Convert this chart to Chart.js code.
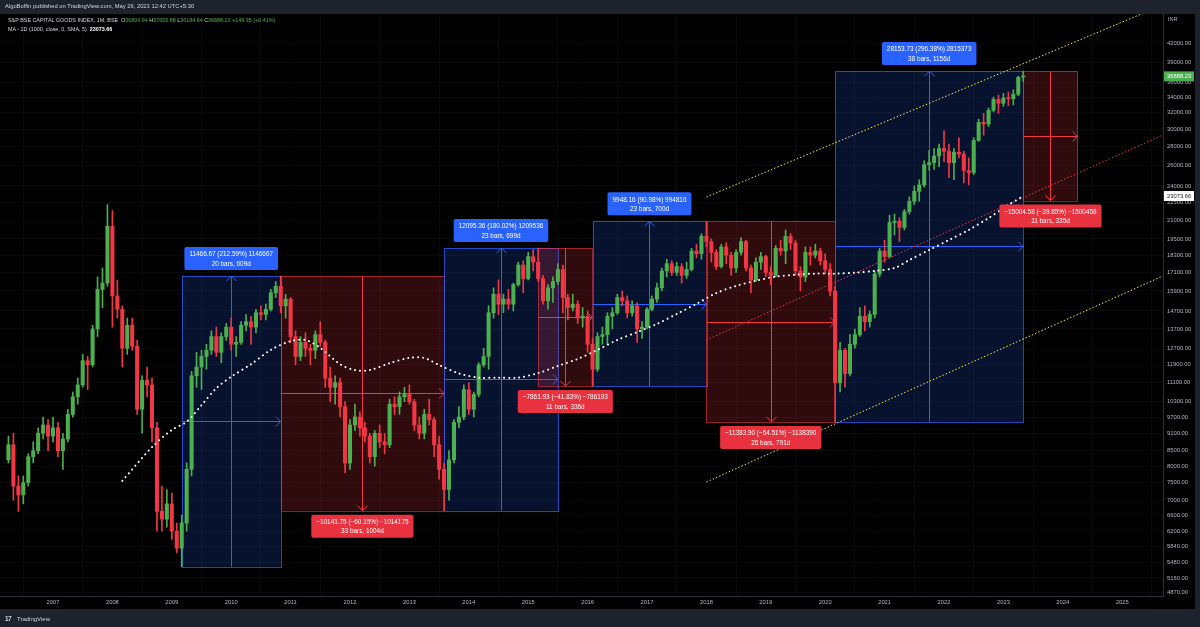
<!DOCTYPE html>
<html><head><meta charset="utf-8">
<script src="https://cdn.jsdelivr.net/npm/chart.js@4.4.0/dist/chart.umd.min.js"></script>
<style>
html,body{margin:0;padding:0;background:#1e222d;width:1200px;height:627px;overflow:hidden;}
#wrap{position:relative;width:1200px;height:627px;}
canvas{position:absolute;left:0;top:0;}
.t{position:absolute;font-family:"Liberation Sans",Arial,sans-serif;white-space:nowrap;line-height:1;}
#pub{left:5px;top:3.8px;font-size:5.8px;color:#d1d4dc;}
#l1{left:8px;top:17.5px;font-size:5.4px;color:#d1d4dc;}
#l2{left:8px;top:26.5px;font-size:5.4px;color:#d1d4dc;}
.g{color:#4caf50}
.w{color:#ffffff;font-weight:bold}
#inr{left:1168px;top:16.5px;font-size:5.4px;color:#b2b5be;}
#foot{left:17px;top:616px;font-size:6px;color:#d1d4dc;}
#logo{left:5px;top:615.5px;font-size:6.5px;color:#d1d4dc;font-weight:bold;letter-spacing:-0.5px;}
</style></head>
<body><div id="wrap">
<canvas id="c" width="1200" height="627"></canvas>
<div class="t" id="pub">AlgoBoffin published on TradingView.com, May 26, 2023 12:42 UTC+5:30</div>
<div class="t" id="l1">S&amp;P BSE CAPITAL GOODS INDEX, 1M, BSE&nbsp;&nbsp;O<span class="g">36804.94</span> H<span class="g">37652.88</span> L<span class="g">36184.64</span> C<span class="g">36888.23</span> <span class="g">+149.35 (+0.41%)</span></div>
<div class="t" id="l2">MA - 1D (1000, close, 0, SMA, 5)&nbsp;&nbsp;<span class="w">23073.66</span></div>
<div class="t" id="inr">INR</div>
<div class="t" id="logo">17</div>
<div class="t" id="foot">TradingView</div>
</div>
<script>
// Monthly candles, first bar = April 2006 (month index -9 relative to Jan 2007)
const firstIndex = -9;
const open = [8200,8700,7400,7150,7500,8300,8500,9100,9400,
9000,9300,8500,8900,9800,10500,11000,12100,11900,13700,16000,16400,
20500,15600,14800,12700,13900,12800,10000,11200,11000,9300,6700,6500,
6900,6200,5800,6400,7900,11400,11800,12300,12600,13300,12500,13300,
13800,12900,13000,13900,14100,13800,14600,14500,14800,15800,16200,15000,
15400,13300,12300,13000,12700,12600,13400,13000,11300,10900,11100,10100,
8100,9400,9700,9300,9000,8300,9100,8800,8700,10200,10100,10500,
10600,10300,9400,9100,9800,9600,8700,7900,7300,8200,9500,9700,
10800,10000,10600,11900,12300,14600,15700,15100,15400,15100,16300,17600,
16700,18200,17800,16700,15300,16100,16500,17300,15500,14900,15100,14300,
14400,12900,11700,13300,13400,14400,14600,15500,15300,14600,15000,13700,
13800,14800,15400,16100,17200,17700,17100,17500,16900,17300,18600,18400,
19700,19300,18500,17500,18900,18300,17400,18500,19300,17400,16600,17800,
18200,17100,16900,18800,18600,19700,19200,17200,16800,18500,18300,18600,
17900,17300,15900,11100,12600,11500,12900,13400,14400,14100,14500,17000,
18600,18200,20800,20900,20400,21700,22600,23500,24100,26100,26300,27000,
27800,27500,26300,27400,27200,25500,25300,28700,30800,30600,32300,33700,
33200,33900,33800,34400,36804.94];
const high = [9000,9100,7700,7700,8400,8800,9300,9700,9600,
9700,9500,9100,10000,10700,11300,12400,12300,13900,16800,17400,22300,
21800,16600,15000,14300,14300,13100,11400,11800,11300,9500,7400,7300,
7200,6400,6600,8100,11600,12500,12600,12900,13600,13800,13500,14000,
14300,13300,14100,14500,14400,14800,15000,15100,16000,16500,16860,15700,
15500,13600,13300,13500,12900,13600,14100,13100,11800,11400,11300,10300,
9600,10200,9900,9500,9100,9200,9400,9100,10400,10500,10700,10900,
11000,10400,9700,10000,10400,9700,9000,8100,8500,9600,10100,11000,
11100,10700,12000,12700,15000,16100,16600,15700,16000,16400,17800,17900,
18500,18700,18814,16900,16300,16800,17700,17600,15700,15700,15300,14900,
14700,13200,13500,13800,14600,14900,15700,15900,15600,15300,15200,14100,
14900,15600,16400,17400,18000,17900,17800,17700,17800,18800,19100,19900,
20900,19500,18700,19100,19200,18500,18700,19600,19400,17600,18100,18500,
18300,17500,19000,19400,20200,19900,19400,17500,18900,18900,19100,18800,
18400,17700,16200,13000,12700,13400,13700,14900,15000,14700,17200,18800,
19400,21400,21500,21200,21900,23000,24000,24600,26500,27600,27800,28300,
29800,28300,27800,29000,27500,26800,29000,31200,31900,32600,34000,34300,
34500,34700,35000,36900,37652.88];
const low = [8100,7000,6700,6900,7400,8100,8400,8900,8500,
8800,8300,7900,8800,9700,10200,10900,10800,11800,13300,14900,16200,
13800,14300,11800,12400,12600,9800,9100,10500,8800,6200,6200,6300,
6000,5700,5394,6200,7700,10900,10800,11700,12400,12300,12000,13100,
12600,12300,12900,13600,12900,13500,14200,14200,14700,15500,14600,14300,
13000,11900,12100,12300,11900,12200,12800,10900,10300,10200,9700,7800,
7900,9200,9000,8800,8100,8000,8600,8400,8600,9800,9800,10300,
10200,9200,8900,8900,9400,8300,7600,6718,7000,8100,9300,9600,
9800,9700,10500,11800,11700,14300,14500,14600,14800,14700,16200,15800,
16600,17200,16500,15100,14800,15200,16300,14600,14200,14700,14000,13800,
12500,10952,11600,12900,12900,13700,14500,15000,14300,14400,13000,13200,
13700,14700,15200,15900,16800,16900,16900,16400,16700,17200,18100,18000,
18900,17800,17300,17400,17700,16900,17100,18300,17200,15800,16500,17300,
16800,16300,16800,18300,17700,18700,16900,15900,16500,17600,18100,17600,
17000,15600,9516,10700,10900,11400,12700,13300,13600,13800,14300,16800,
17800,18100,19800,19300,20200,21500,22300,22600,23900,25500,25600,25900,
26400,24800,24600,26800,24300,24100,25100,28600,29300,30300,32100,31900,
32800,32900,33000,34200,36184.64];
const close = [8700,7400,7150,7500,8300,8500,9100,9400,9000,
9300,8500,8900,9800,10500,11000,12100,11900,13700,16000,16400,20500,
15600,14800,12700,13900,12800,10000,11200,11000,9300,6700,6500,6900,
6200,5800,6400,7900,11400,11800,12300,12600,13300,12500,13300,13800,
12900,13000,13900,14100,13800,14600,14500,14800,15800,16200,15000,15400,
13300,12300,13000,12700,12600,13400,13000,11300,10900,11100,10100,8100,
9400,9700,9300,9000,8300,9100,8800,8700,10200,10100,10500,10600,
10300,9400,9100,9800,9600,8700,7900,7300,8200,9500,9700,10800,
10000,10600,11900,12300,14600,15700,15100,15400,15100,16300,17600,16700,
18200,17800,16700,15300,16100,16500,17300,15500,14900,15100,14300,14400,
12900,11700,13300,13400,14400,14600,15500,15300,14600,15000,13700,13800,
14800,15400,16100,17200,17700,17100,17500,16900,17300,18600,18400,19700,
19300,18500,17500,18900,18300,17400,18500,19300,17400,16600,17800,18200,
17100,16900,18800,18600,19700,19200,17200,16800,18500,18300,18600,17900,
17300,15900,11100,12600,11500,12900,13400,14400,14100,14500,17000,18600,
18200,20800,20900,20400,21700,22600,23500,24100,26100,26300,27000,27800,
27500,26300,27400,27200,25500,25300,28700,30800,30600,32300,33700,33200,
33900,33800,34400,36738.88,36888.23];

// MA (1000 D SMA) sampled points: month index / value
const maMonth = [14,20,24,27,30,33,36,40,44,48,51,54,58,61,64,68,72,75,78,82,86,90,94,98,102,106,110,114,118,122,126,130,134,138,142,146,150,154,158,162,166,170,173,177,181,185,189,193,196];
const maValue = [7550,8620,9220,9520,10160,10860,11360,11930,12620,13060,13120,12720,11930,11660,11660,11980,12230,12230,11890,11510,11320,11320,11320,11520,11850,12180,12620,13120,13530,13970,14530,15120,15770,16220,16550,16820,16950,17020,17020,17080,17200,17400,17950,18670,19420,20200,21170,22280,23073.66];

// Parallel channel (month index, price)
const chanMonth = [132, 224.2];
const chanUpper = [22990, 48810];
const chanMid = [13120, 29310];
const chanLower = [7518, 16860];

// Date & price range measurements
const boxStart = [26,46,79,98,109,132,158,196];
const boxEnd   = [46,79,102,109,132,158,196,207];
const boxFrom  = [5393.8,16860.5,6718.7,18814.1,10952.2,20900.4,9516.5,37670.2];
const boxTo    = [16860.5,6718.7,18814.1,10952.2,20900.4,9516.5,37670.2,22665.6];
const boxLine1 = ["11466.67 (212.59%) 1146667","\u221210141.75 (\u221260.15%) \u22121014175","12095.36 (180.02%) 1209536","\u22127861.93 (\u221241.83%) \u2212786193","9948.16 (90.98%) 994816","\u221211383.90 (\u221254.51%) \u22121138390","28153.73 (296.38%) 2815373","\u221215004.58 (\u221239.85%) \u22121500458"];
const boxLine2 = ["20 bars, 609d","33 bars, 1004d","23 bars, 699d","11 bars, 336d","23 bars, 700d","26 bars, 791d","38 bars, 1156d","11 bars, 335d"];

// Axis ticks
const yearTicks = [0,12,24,36,48,60,72,84,96,108,120,132,144,156,168,180,192,204,216];
const yearLabels = ["2007","2008","2009","2010","2011","2012","2013","2014","2015","2016","2017","2018","2019","2020","2021","2022","2023","2024","2025"];
const priceTicks = [42000,39000,36000,34000,32000,30000,28000,26000,24000,22500,21000,19500,18300,17100,15900,14700,13700,12700,11900,11100,10300,9700,9100,8500,8000,7500,7000,6600,6200,5840,5480,5160,4870];

const UP='#4caf50', DN='#f23645';
const FONT='"Liberation Sans", Arial, sans-serif';

const idx = close.map((_,i)=>firstIndex+i);
const isUp = close.map((c,i)=>c>=open[i]);
const candleCol = isUp.map(u=>u?UP:DN);

const framePlugin = {
  id:'frame',
  beforeDraw(c){
    const ctx=c.ctx; ctx.save();
    ctx.fillStyle='#1e222d'; ctx.fillRect(0,0,1200,627);
    ctx.fillStyle='#000000'; ctx.fillRect(0,14,1195,595);
    ctx.restore();
  }
};

function arrowHead(ctx, x, y, dir, s){
  ctx.beginPath();
  if(dir==='up'){ctx.moveTo(x-s,y+s);ctx.lineTo(x,y);ctx.lineTo(x+s,y+s);}
  else if(dir==='down'){ctx.moveTo(x-s,y-s);ctx.lineTo(x,y);ctx.lineTo(x+s,y-s);}
  else {ctx.moveTo(x-s,y-s);ctx.lineTo(x,y);ctx.lineTo(x-s,y+s);}
  ctx.stroke();
}

const measurePlugin = {
  id:'measure',
  beforeDatasetsDraw(c){
    const {ctx, chartArea:a} = c; const x=c.scales.x, y=c.scales.y;
    ctx.save();
    ctx.beginPath(); ctx.rect(a.left,a.top,a.right-a.left,a.bottom-a.top); ctx.clip();
    for(let i=0;i<boxStart.length;i++){
      const up = boxTo[i]>boxFrom[i];
      const x0=x.getPixelForValue(boxStart[i]), x1=x.getPixelForValue(boxEnd[i]);
      const yA=y.getPixelForValue(boxFrom[i]), yB=y.getPixelForValue(boxTo[i]);
      const top=Math.min(yA,yB), bot=Math.max(yA,yB);
      ctx.fillStyle = up?'rgba(41,98,255,0.18)':'rgba(242,54,69,0.2)';
      ctx.fillRect(x0,top,x1-x0,bot-top);
      ctx.strokeStyle = up?'rgba(41,98,255,0.75)':'rgba(242,54,69,0.6)';
      ctx.lineWidth=1;
      ctx.strokeRect(Math.round(x0)+0.5,Math.round(top)+0.5,Math.round(x1-x0),Math.round(bot-top));
      const col = up?'#2962ff':'#f23645';
      ctx.strokeStyle=col; ctx.lineWidth=1;
      const xm=Math.round((x0+x1)/2)+0.5, ym=Math.round((top+bot)/2)+0.5;
      ctx.beginPath(); ctx.moveTo(xm,yA); ctx.lineTo(xm,yB); ctx.stroke();
      arrowHead(ctx,xm,yB,up?'up':'down',5);
      ctx.beginPath(); ctx.moveTo(x0,ym); ctx.lineTo(x1,ym); ctx.stroke();
      arrowHead(ctx,x1,ym,'right',5);
    }
    ctx.restore();
  },
  afterDatasetsDraw(c){
    const {ctx} = c; const x=c.scales.x, y=c.scales.y;
    ctx.save();
    ctx.font='6.4px '+FONT; ctx.textAlign='center'; ctx.textBaseline='middle';
    for(let i=0;i<boxStart.length;i++){
      const up = boxTo[i]>boxFrom[i];
      const x0=x.getPixelForValue(boxStart[i]), x1=x.getPixelForValue(boxEnd[i]);
      const yA=y.getPixelForValue(boxFrom[i]), yB=y.getPixelForValue(boxTo[i]);
      const top=Math.min(yA,yB), bot=Math.max(yA,yB);
      const xm=(x0+x1)/2;
      const w=Math.max(ctx.measureText(boxLine1[i]).width,ctx.measureText(boxLine2[i]).width)+10;
      const h=23;
      const ly = up? top-6-h : bot+4;
      ctx.fillStyle = up?'#2962ff':'#e8323f';
      ctx.beginPath();
      if(ctx.roundRect) ctx.roundRect(xm-w/2,ly,w,h,2); else ctx.rect(xm-w/2,ly,w,h);
      ctx.fill();
      ctx.fillStyle='#ffffff';
      ctx.fillText(boxLine1[i],xm,ly+7.5);
      ctx.fillText(boxLine2[i],xm,ly+17);
    }
    ctx.restore();
  },
  afterDraw(c){
    const {ctx} = c; const y=c.scales.y;
    ctx.save();
    ctx.font='5.8px '+FONT; ctx.textAlign='left'; ctx.textBaseline='middle';
    const lastC = close[close.length-1];
    let py = y.getPixelForValue(lastC);
    ctx.fillStyle=UP; ctx.fillRect(1164,py-5,30,10);
    ctx.fillStyle='#ffffff'; ctx.fillText(lastC.toFixed(2),1167,py+0.5);
    const lastMA = maValue[maValue.length-1];
    py = y.getPixelForValue(lastMA);
    ctx.fillStyle='#ffffff'; ctx.fillRect(1164,py-5,30,10);
    ctx.fillStyle='#131722'; ctx.fillText(lastMA.toFixed(2),1167,py+0.5);
    ctx.restore();
  }
};

new Chart(document.getElementById('c'), {
  type:'bar',
  data:{
    datasets:[
      {type:'line', label:'MA', order:0,
       data: maMonth.map((m,i)=>({x:m,y:maValue[i]})),
       borderColor:'#ffffff', borderWidth:2, borderDash:[0.1,4.9], borderCapStyle:'round',
       pointRadius:0, fill:false, tension:0.3},
      {type:'line', label:'upper', order:1,
       data: chanMonth.map((m,i)=>({x:m,y:chanUpper[i]})),
       borderColor:'#ffeb3b', borderWidth:1, borderDash:[1.5,2], pointRadius:0, fill:false},
      {type:'line', label:'mid', order:1,
       data: chanMonth.map((m,i)=>({x:m,y:chanMid[i]})),
       borderColor:'#f23645', borderWidth:1, borderDash:[1.5,2], pointRadius:0, fill:false},
      {type:'line', label:'lower', order:1,
       data: chanMonth.map((m,i)=>({x:m,y:chanLower[i]})),
       borderColor:'#ffeb3b', borderWidth:1, borderDash:[1.5,2], pointRadius:0, fill:false},
      {type:'bar', label:'body', order:2,
       data: idx.map((m,i)=>({x:m,y:[open[i],close[i]]})),
       backgroundColor:candleCol, borderWidth:0, barThickness:3.4, minBarLength:1, grouped:false},
      {type:'bar', label:'wick', order:3,
       data: idx.map((m,i)=>({x:m,y:[low[i],high[i]]})),
       backgroundColor:candleCol, borderWidth:0, barThickness:1, grouped:false}
    ]
  },
  options:{
    responsive:false, animation:false, devicePixelRatio:1,
    layout:{padding:{top:14,bottom:18,left:0,right:5}},
    plugins:{legend:{display:false},tooltip:{enabled:false}},
    scales:{
      x:{type:'linear', min:-10.707, max:224.24, offset:false,
         afterBuildTicks:(s)=>{s.ticks=yearTicks.map(v=>({value:v}));},
         afterFit:(s)=>{s.height=13;},
         ticks:{autoSkip:false, maxRotation:0, padding:3, color:'#b2b5be', font:{family:FONT,size:5.8},
                callback:(v)=>{const k=yearTicks.indexOf(v); return k>=0?yearLabels[k]:'';}},
         grid:{color:'rgba(255,255,255,0.035)', drawTicks:false},
         border:{color:'#2a2e39'}},
      y:{type:'logarithmic', position:'right', min:4807.6, max:47113,
         afterBuildTicks:(s)=>{s.ticks=priceTicks.map(v=>({value:v}));},
         afterFit:(s)=>{s.width=32;},
         ticks:{autoSkip:false, padding:4, color:'#b2b5be', font:{family:FONT,size:5.8},
                callback:(v)=>Number(v).toFixed(2)},
         grid:{color:'rgba(255,255,255,0.035)', drawTicks:false},
         border:{color:'#2a2e39'}}
    }
  },
  plugins:[framePlugin, measurePlugin]
});
</script>
</body></html>
